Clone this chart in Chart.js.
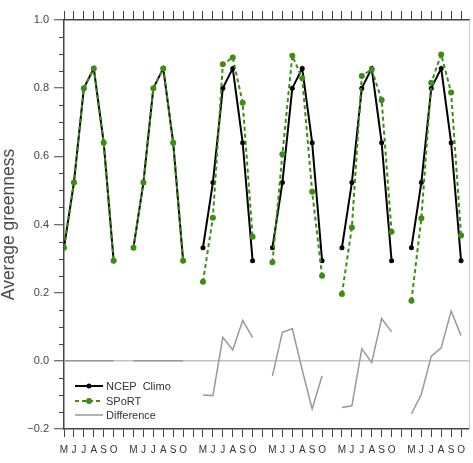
<!DOCTYPE html>
<html>
<head>
<meta charset="utf-8">
<script src="https://cdn.jsdelivr.net/npm/chart.js@4/dist/chart.umd.min.js"></script>
<style>
html,body{margin:0;padding:0;background:#fff;}
canvas{display:block;}
</style>
</head>
<body>
<canvas id="c" width="473" height="463"></canvas>
<script>
// ---- data ----
const monthLabels = ['M','J','J','A','S','O'];
const seasonCount = 6;
const ncepClimo = [
  0.332, 0.523, 0.800, 0.858, 0.640, 0.294,
  0.332, 0.523, 0.800, 0.858, 0.640, 0.294,
  0.332, 0.523, 0.800, 0.858, 0.640, 0.294,
  0.332, 0.523, 0.800, 0.858, 0.640, 0.294,
  0.332, 0.523, 0.800, 0.858, 0.640, 0.294,
  0.332, 0.523, 0.800, 0.858, 0.640, 0.294
];
const sport = [
  0.332, 0.523, 0.800, 0.858, 0.640, 0.294,
  0.332, 0.523, 0.800, 0.858, 0.640, 0.294,
  0.232, 0.420, 0.870, 0.890, 0.757, 0.364,
  0.289, 0.606, 0.895, 0.829, 0.496, 0.250,
  0.196, 0.391, 0.836, 0.855, 0.765, 0.379,
  0.176, 0.418, 0.816, 0.899, 0.787, 0.368
];
const difference = [
  0.000, 0.000, 0.000, 0.000, 0.000, 0.000,
  0.000, 0.000, 0.000, 0.000, 0.000, 0.000,
  -0.100, -0.102, 0.069, 0.032, 0.118, 0.069,
  -0.044, 0.084, 0.094, -0.027, -0.141, -0.044,
  -0.137, -0.132, 0.035, -0.005, 0.124, 0.085,
  -0.156, -0.098, 0.014, 0.038, 0.146, 0.074
];
const yMajorTicks = [-0.2, 0.0, 0.2, 0.4, 0.6, 0.8, 1.0];
const yMinorStep = 0.05;
const seriesNames = ['NCEP  Climo', 'SPoRT', 'Difference'];

// ---- build ----
const slotsPerSeason = 7;
function toPoints(vals){
  const pts = [];
  for (let s = 0; s < seasonCount; s++) {
    for (let m = 0; m < monthLabels.length; m++) {
      pts.push({x: s*slotsPerSeason + m, y: vals[s*monthLabels.length + m]});
    }
    pts.push({x: s*slotsPerSeason + 6, y: null});
  }
  return pts;
}
const slots = [];
for (let i = 0; i <= (seasonCount-1)*slotsPerSeason + 5; i++) slots.push(i);
const xMax = 40.8;

const FONT = '"Liberation Sans", Arial, Helvetica, sans-serif';
const AXIS = '#444';
const GREEN = '#3d8c14';
const BLACK = '#000';
const GRAY = '#999';

const minorTicks = {
  id: 'minorTicks',
  afterDraw(chart){
    const y = chart.scales.y, ctx = chart.ctx;
    const left = chart.chartArea.left;
    ctx.save();
    ctx.strokeStyle = AXIS; ctx.lineWidth = 1;
    for (let v = -0.2; v <= 1.0001; v += yMinorStep) {
      const r = Math.round(v*100)/100;
      if (Math.abs(Math.round(r/0.2)*0.2 - r) < 1e-6) continue;
      const py = Math.round(y.getPixelForValue(r)) + 0.5;
      ctx.beginPath(); ctx.moveTo(left-5, py); ctx.lineTo(left, py); ctx.stroke();
    }
    ctx.restore();
  }
};

const legendPlugin = {
  id: 'insideLegend',
  afterDraw(chart){
    const ctx = chart.ctx, a = chart.chartArea;
    const styles = [
      {color: BLACK, dash: [], width: 2, dot: 2.5},
      {color: GREEN, dash: [4,3], width: 2, dot: 3},
      {color: GRAY, dash: [], width: 1.5, dot: 0}
    ];
    const offs = [-43, -28, -14];
    ctx.save();
    ctx.font = '11px ' + FONT;
    ctx.textBaseline = 'middle';
    styles.forEach((st, i) => {
      const yy = a.bottom + offs[i];
      const x0 = a.left + 11, x1 = a.left + 39;
      ctx.strokeStyle = st.color; ctx.lineWidth = st.width; ctx.setLineDash(st.dash);
      ctx.beginPath(); ctx.moveTo(x0, yy); ctx.lineTo(x1, yy); ctx.stroke();
      ctx.setLineDash([]);
      if (st.dot) { ctx.fillStyle = st.color; ctx.beginPath(); ctx.arc((x0+x1)/2, yy, st.dot, 0, Math.PI*2); ctx.fill(); }
      ctx.fillStyle = '#333';
      ctx.fillText(seriesNames[i], x1 + 3, yy + 0.5);
    });
    ctx.restore();
  }
};

new Chart(document.getElementById('c'), {
  type: 'line',
  data: {
    datasets: [
      {label: seriesNames[1], data: toPoints(sport), borderColor: GREEN, backgroundColor: GREEN,
       borderWidth: 2, borderDash: [4,3], pointRadius: 3, pointBorderWidth: 0, order: 0, spanGaps: false},
      {label: seriesNames[0], data: toPoints(ncepClimo), borderColor: BLACK, backgroundColor: BLACK,
       borderWidth: 2, pointRadius: 2.5, pointBorderWidth: 0, order: 1, spanGaps: false},
      {label: seriesNames[2], data: toPoints(difference), borderColor: GRAY, backgroundColor: GRAY,
       borderWidth: 1.5, pointRadius: 0, order: 2, spanGaps: false}
    ]
  },
  options: {
    responsive: false,
    animation: false,
    events: [],
    layout: {padding: {left: 0, right: 0, top: 0, bottom: 0}},
    plugins: {legend: {display: false}, tooltip: {enabled: false}},
    elements: {line: {tension: 0}},
    scales: {
      x: {
        type: 'linear', position: 'bottom', min: 0, max: xMax,
        afterBuildTicks: s => { s.ticks = slots.map(v => ({value: v})); },
        afterFit: s => { s.height = 34; },
        ticks: {
          autoSkip: false, maxRotation: 0, minRotation: 0, padding: 7,
          color: '#333', font: {family: FONT, size: 10},
          callback: v => monthLabels[v % slotsPerSeason] || ''
        },
        grid: {drawOnChartArea: false, drawTicks: true, tickLength: 8, tickColor: AXIS, tickWidth: 1},
        border: {color: AXIS, width: 1.5}
      },
      xTop: {
        type: 'linear', position: 'top', min: 0, max: xMax,
        afterBuildTicks: s => { s.ticks = slots.map(v => ({value: v})); },
        afterFit: s => { s.height = 20; },
        ticks: {display: false},
        grid: {drawOnChartArea: false, drawTicks: true, tickLength: 9, tickColor: AXIS, tickWidth: 1},
        border: {color: AXIS, width: 1.5}
      },
      y: {
        type: 'linear', position: 'left', min: -0.2, max: 1.0,
        afterBuildTicks: s => { s.ticks = yMajorTicks.map(v => ({value: v})); },
        afterFit: s => { s.width = 64; },
        ticks: {
          padding: 5, color: '#444', font: {family: FONT, size: 11},
          callback: v => (v < 0 ? '\u2212' : '') + Math.abs(v).toFixed(1)
        },
        grid: {
          drawOnChartArea: true, drawTicks: true, tickLength: 10,
          color: c => (c.tick && Math.abs(c.tick.value) < 1e-9) ? '#c4c4c4' : 'rgba(0,0,0,0)',
          lineWidth: 1.5, tickColor: AXIS, tickWidth: 1
        },
        border: {color: AXIS, width: 1.5},
        title: {display: true, text: 'Average greenness', color: '#4a4a4a',
                font: {family: FONT, size: 17.5}, padding: {top: -1, bottom: 0}}
      },
      yRight: {
        type: 'linear', position: 'right', min: -0.2, max: 1.0,
        afterFit: s => { s.width = 1; },
        ticks: {display: false},
        grid: {display: false, drawTicks: false},
        border: {color: '#c8c8c8', width: 1}
      }
    }
  },
  plugins: [minorTicks, legendPlugin]
});
</script>
</body>
</html>
